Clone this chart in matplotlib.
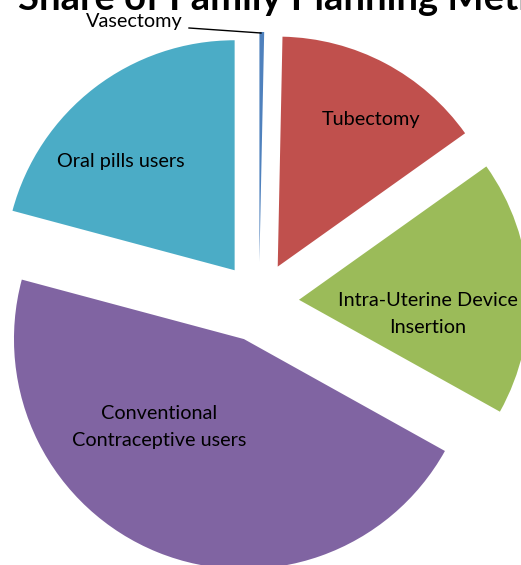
import matplotlib
matplotlib.use("Agg")
import matplotlib.pyplot as plt

# Data (share of methods, %)
categories = ["Vasectomy", "Tubectomy", "Intra-Uterine Device\nInsertion",
              "Conventional\nContraceptive users", "Oral pills users"]
shares = [0.33, 14.8, 17.9, 46.0, 20.8]
colors = ["#4F81BD", "#C0504D", "#9BBB59", "#8064A2", "#4BACC6"]
title = "Share of Family Planning Methods"

W, H = 521, 565
R = 230.0          # pie radius in px
CX, CY = 259.0, 302.0  # pie centre in px (from top-left)

fig = plt.figure(figsize=(W / 100, H / 100), dpi=100)
ax = fig.add_axes([0, 0, 1, 1])

wedges, _ = ax.pie(shares, colors=colors, startangle=90, counterclock=False,
                   explode=[0.174] * len(shares), radius=1.0,
                   wedgeprops=dict(linewidth=0))

ax.set_xlim(-CX / R, (W - CX) / R)
ax.set_ylim(-(H - CY) / R, CY / R)
ax.set_aspect("auto")
ax.axis("off")

def d(px, py):
    return (px - CX) / R, (CY - py) / R

font = ["Lato", "DejaVu Sans"]
fs = 14.3
label_pos = [None, (371, 119), (428, 314), (159, 427), (121, 162)]
for name, pos in zip(categories, label_pos):
    if pos is None:
        continue
    x, y = d(*pos)
    ax.text(x, y, name, ha="center", va="center", fontsize=fs,
            family=font, color="black", multialignment="center",
            linespacing=1.65)

# Vasectomy label with leader line
vx, vy = d(183, 22)
ax.text(vx, vy, categories[0], ha="right", va="center", fontsize=fs,
        family=font, color="black")
x0, y0 = d(189, 28)
x1, y1 = d(261, 33)
ax.plot([x0, x1], [y0, y1], color="black", linewidth=1.0)

tx, ty = d(18, 10)
ax.text(tx, ty, title, ha="left", va="baseline", fontsize=27.5,
        fontweight="bold", family=font, color="black")

fig.savefig("out.png", dpi=100)
